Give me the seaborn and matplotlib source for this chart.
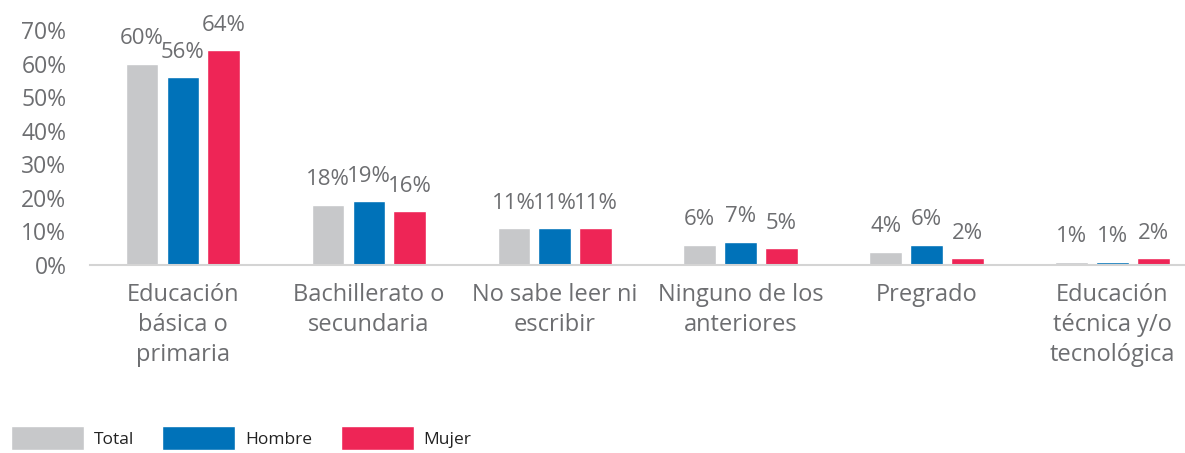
import pandas as pd
import matplotlib
matplotlib.use("Agg")
import matplotlib.pyplot as plt
import seaborn as sns

# datos (porcentajes)
categorias = ["Educación\nbásica o\nprimaria", "Bachillerato o\nsecundaria", "No sabe leer ni\nescribir",
              "Ninguno de los\nanteriores", "Pregrado", "Educación\ntécnica y/o\ntecnológica"]
total = [60, 18, 11, 6, 4, 1]
hombre = [56, 19, 11, 7, 6, 1]
mujer = [64, 16, 11, 5, 2, 2]
series = ["Total", "Hombre", "Mujer"]
colores = ["#c7c8ca", "#0072b9", "#ee2556"]
yticks = [0, 10, 20, 30, 40, 50, 60, 70]

df = pd.DataFrame({
    "categoria": categorias * 3,
    "serie": [s for s in series for _ in categorias],
    "valor": total + hombre + mujer,
})

sns.set_style("white")
plt.rcParams["font.family"] = ["Open Sans", "DejaVu Sans"]
gris = "#6d6e71"

fig = plt.figure(figsize=(11.85, 4.53), dpi=100)
ax = fig.add_axes([90 / 1185, 188 / 453, 1 - 90 / 1185, 235 / 453])

sns.barplot(data=df, x="categoria", y="valor", hue="serie", palette=colores,
            saturation=1, width=0.66, gap=0.2, ax=ax)

# etiquetas de valor
for cont in ax.containers:
    for bar in cont:
        h = bar.get_height()
        ax.annotate(f"{h:.0f}%", (bar.get_x() + bar.get_width() / 2, h),
                    xytext=(0, 14), textcoords="offset points",
                    ha="center", va="baseline", fontsize=16, color=gris,
                    annotation_clip=False)

ax.set_xlim(-0.5, 5.39)
ax.set_ylim(0, 70)
ax.set_yticks(yticks)
ax.set_yticklabels([f"{t}%" for t in yticks])
ax.set_xlabel("")
ax.set_ylabel("")

for s in ["top", "right", "left"]:
    ax.spines[s].set_visible(False)
ax.spines["bottom"].set_color("#d4d4d4")
ax.spines["bottom"].set_linewidth(1.5)

ax.tick_params(axis="y", length=0, pad=17, labelsize=16.5, labelcolor=gris)
ax.tick_params(axis="x", which="major", length=0, pad=13, labelsize=17, labelcolor=gris)
ax.set_xticks([i - 0.5 for i in range(6)], minor=True)
ax.tick_params(axis="x", which="minor", length=6, width=1.5, color="#d4d4d4", direction="out")
for lbl in ax.get_xticklabels():
    lbl.set_linespacing(1.32)

handles, labels = ax.get_legend_handles_labels()
ax.get_legend().remove()
fig.legend(handles, labels, loc="center left", bbox_to_anchor=(11 / 1185, 15 / 453),
           ncol=3, frameon=False, fontsize=12.5, handlelength=4.2, handleheight=1.75,
           handletextpad=0.55, columnspacing=1.65, borderpad=0, borderaxespad=0,
           labelcolor="#222222")

fig.savefig("out.png", dpi=100)
